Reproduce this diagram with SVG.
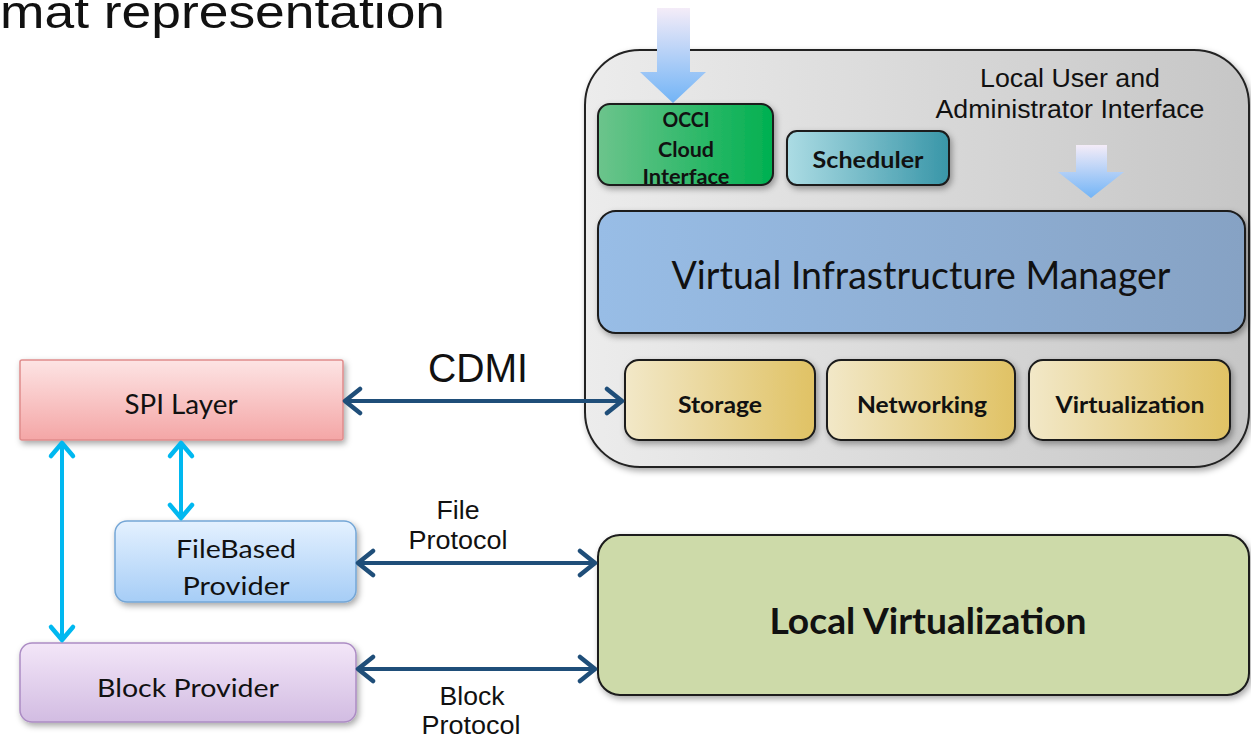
<svg xmlns="http://www.w3.org/2000/svg" width="1251" height="737" viewBox="0 0 1251 737">
<style>
.lib{font-family:"Liberation Sans",Arial,sans-serif;fill:#111}
.cal{font-family:Lato,"Noto Sans",sans-serif;fill:#111}
.b{font-weight:bold}
.box{stroke:#1a1a1a;stroke-width:2}
.navy{stroke:#1f4e79;stroke-width:4;fill:none;marker-start:url(#ahN);marker-end:url(#ahN)}
.cyan{stroke:#00b8f0;stroke-width:4;fill:none;marker-start:url(#ahC);marker-end:url(#ahC)}
</style>
<defs>
<filter id="sh" x="-10%" y="-10%" width="125%" height="135%">
<feDropShadow dx="2" dy="3" stdDeviation="3" flood-color="#000" flood-opacity="0.35"/>
</filter>
<linearGradient id="gGray" x1="0" y1="0" x2="1" y2="0"><stop offset="0" stop-color="#ececec"/><stop offset="1" stop-color="#c6c6c6"/></linearGradient>
<linearGradient id="gGreen" x1="0" y1="0" x2="1" y2="0"><stop offset="0" stop-color="#6cc48c"/><stop offset="1" stop-color="#00b050"/></linearGradient>
<linearGradient id="gTeal" x1="0" y1="0" x2="1" y2="0"><stop offset="0" stop-color="#acdce4"/><stop offset="1" stop-color="#3996a8"/></linearGradient>
<linearGradient id="gVim" x1="0" y1="0" x2="1" y2="0"><stop offset="0" stop-color="#98bde6"/><stop offset="1" stop-color="#86a2c4"/></linearGradient>
<linearGradient id="gGold" x1="0" y1="0" x2="1" y2="0"><stop offset="0" stop-color="#f2e8c8"/><stop offset="1" stop-color="#e0c264"/></linearGradient>
<linearGradient id="gPink" x1="0" y1="0" x2="0" y2="1"><stop offset="0" stop-color="#fde4e4"/><stop offset="1" stop-color="#f4a6a6"/></linearGradient>
<linearGradient id="gBlue" x1="0" y1="0" x2="0" y2="1"><stop offset="0" stop-color="#e4f1ff"/><stop offset="1" stop-color="#a6cdf6"/></linearGradient>
<linearGradient id="gLav" x1="0" y1="0" x2="0" y2="1"><stop offset="0" stop-color="#f3e6f8"/><stop offset="1" stop-color="#d2bce2"/></linearGradient>
<linearGradient id="gArrow" x1="0" y1="0" x2="0" y2="1"><stop offset="0" stop-color="#f4ecf8"/><stop offset="1" stop-color="#72b4f6"/></linearGradient>
<marker id="ahN" markerUnits="userSpaceOnUse" viewBox="0 0 30 30" refX="24" refY="15" markerWidth="30" markerHeight="30" orient="auto-start-reverse">
<path d="M9,3 L24,15 L9,27" fill="none" stroke="#1f4e79" stroke-width="4.5" stroke-linecap="round" stroke-linejoin="round"/>
</marker>
<marker id="ahC" markerUnits="userSpaceOnUse" viewBox="0 0 30 30" refX="24" refY="15" markerWidth="30" markerHeight="30" orient="auto-start-reverse">
<path d="M11,4 L24,15 L11,26" fill="none" stroke="#00b8f0" stroke-width="4.5" stroke-linecap="round" stroke-linejoin="round"/>
</marker>
</defs>
<rect width="1251" height="737" fill="#fff"/>
<text class="lib" x="0" y="28" font-size="46" textLength="445" lengthAdjust="spacingAndGlyphs">mat representation</text>

<g id="container">
<rect x="585" y="50" width="664" height="417" rx="55" fill="url(#gGray)" stroke="#222" stroke-width="2" filter="url(#sh)"/>
<text class="lib" x="1070" y="87" font-size="25" text-anchor="middle" textLength="180" lengthAdjust="spacingAndGlyphs" fill="#222">Local User and</text>
<text class="lib" x="1070" y="118" font-size="25" text-anchor="middle" textLength="269" lengthAdjust="spacingAndGlyphs" fill="#222">Administrator Interface</text>
</g>

<g id="arrow-occi">
<path d="M657,8 H690 V72 H706 L673,103 L640,72 H657 Z" fill="url(#gArrow)"/>
</g>
<g id="arrow-local">
<path d="M1076,145 H1107 V172 H1124 L1091,198 L1058,172 H1076 Z" fill="url(#gArrow)"/>
</g>

<g id="occi">
<rect class="box" x="598" y="104" width="175" height="81" rx="12" fill="url(#gGreen)" filter="url(#sh)"/>
<text class="cal b" x="686" y="127" font-size="20" text-anchor="middle" textLength="47" lengthAdjust="spacingAndGlyphs">OCCI</text>
<text class="cal b" x="686" y="157" font-size="20" text-anchor="middle" textLength="56" lengthAdjust="spacingAndGlyphs">Cloud</text>
<text class="cal b" x="686" y="184" font-size="20" text-anchor="middle" textLength="87" lengthAdjust="spacingAndGlyphs">Interface</text>
</g>

<g id="scheduler">
<rect class="box" x="787" y="131" width="162" height="54" rx="10" fill="url(#gTeal)" filter="url(#sh)"/>
<text class="cal b" x="868" y="168" font-size="22" text-anchor="middle" textLength="111" lengthAdjust="spacingAndGlyphs">Scheduler</text>
</g>

<g id="vim">
<rect class="box" x="598" y="211" width="647" height="122" rx="18" fill="url(#gVim)" filter="url(#sh)"/>
<text class="cal" x="921" y="289" font-size="38" text-anchor="middle" textLength="499" lengthAdjust="spacingAndGlyphs">Virtual Infrastructure Manager</text>
</g>

<g id="storage">
<rect class="box" x="625" y="360" width="190" height="80" rx="14" fill="url(#gGold)" filter="url(#sh)"/>
<text class="cal b" x="720" y="413" font-size="22" text-anchor="middle" textLength="84" lengthAdjust="spacingAndGlyphs">Storage</text>
</g>
<g id="networking">
<rect class="box" x="827" y="360" width="188" height="80" rx="14" fill="url(#gGold)" filter="url(#sh)"/>
<text class="cal b" x="922" y="413" font-size="22" text-anchor="middle" textLength="130" lengthAdjust="spacingAndGlyphs">Networking</text>
</g>
<g id="virtualization">
<rect class="box" x="1029" y="360" width="201" height="80" rx="14" fill="url(#gGold)" filter="url(#sh)"/>
<text class="cal b" x="1130" y="413" font-size="22" text-anchor="middle" textLength="149" lengthAdjust="spacingAndGlyphs">Virtualization</text>
</g>

<g id="spi">
<rect x="20" y="360" width="323" height="80" rx="2" fill="url(#gPink)" stroke="#e08c8c" stroke-width="1.5" filter="url(#sh)"/>
<text class="cal" x="181" y="414" font-size="26" text-anchor="middle" textLength="113" lengthAdjust="spacingAndGlyphs">SPI Layer</text>
</g>

<g id="filebased">
<rect x="115" y="521" width="241" height="81" rx="12" fill="url(#gBlue)" stroke="#74a6d6" stroke-width="1.5" filter="url(#sh)"/>
<text class="cal" x="236" y="558" font-size="25" text-anchor="middle" textLength="120" lengthAdjust="spacingAndGlyphs">FileBased</text>
<text class="cal" x="236" y="595" font-size="25" text-anchor="middle" textLength="107" lengthAdjust="spacingAndGlyphs">Provider</text>
</g>

<g id="block">
<rect x="20" y="643" width="336" height="79" rx="12" fill="url(#gLav)" stroke="#ac8cc4" stroke-width="1.5" filter="url(#sh)"/>
<text class="cal" x="188" y="697" font-size="25" text-anchor="middle" textLength="182" lengthAdjust="spacingAndGlyphs">Block Provider</text>
</g>

<g id="localvirt">
<rect class="box" x="598" y="535" width="651" height="160" rx="22" fill="#cddaa9" filter="url(#sh)"/>
<text class="cal b" x="928" y="634" font-size="36" text-anchor="middle" textLength="317" lengthAdjust="spacingAndGlyphs">Local Virtualization</text>
</g>

<g id="connectors">
<line class="navy" x1="345" y1="401" x2="622" y2="401"/>
<line class="navy" x1="358" y1="563" x2="595" y2="563"/>
<line class="navy" x1="358" y1="669" x2="595" y2="669"/>
<line class="cyan" x1="62" y1="443" x2="62" y2="640"/>
<line class="cyan" x1="181" y1="443" x2="181" y2="518"/>
<text class="lib" x="478" y="382" font-size="40" text-anchor="middle" textLength="100" lengthAdjust="spacingAndGlyphs">CDMI</text>
<text class="lib" x="458" y="519" font-size="25" text-anchor="middle" textLength="43" lengthAdjust="spacingAndGlyphs" fill="#222">File</text>
<text class="lib" x="458" y="549" font-size="25" text-anchor="middle" textLength="99" lengthAdjust="spacingAndGlyphs" fill="#222">Protocol</text>
<text class="lib" x="472" y="705" font-size="25" text-anchor="middle" textLength="65" lengthAdjust="spacingAndGlyphs" fill="#222">Block</text>
<text class="lib" x="471" y="734" font-size="25" text-anchor="middle" textLength="99" lengthAdjust="spacingAndGlyphs" fill="#222">Protocol</text>
</g>
</svg>
